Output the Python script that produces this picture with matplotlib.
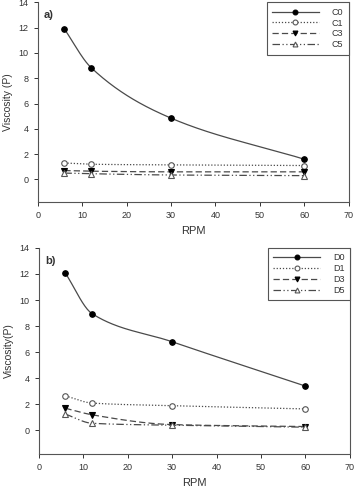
import numpy as np
import matplotlib
matplotlib.use('Agg')
import matplotlib.pyplot as plt

plt.rcParams['font.family'] = ['Liberation Sans', 'DejaVu Sans']

rpm = [6, 12, 30, 60]

c_labels = ['C0', 'C1', 'C3', 'C5']
c0 = [11.9, 8.85, 4.85, 1.6]
c1 = [1.3, 1.2, 1.15, 1.1]
c3 = [0.7, 0.65, 0.6, 0.6]
c5 = [0.5, 0.45, 0.35, 0.3]

d_labels = ['D0', 'D1', 'D3', 'D5']
d0 = [12.05, 8.95, 6.8, 3.4]
d1 = [2.65, 2.1, 1.9, 1.65]
d3 = [1.7, 1.2, 0.45, 0.3]
d5 = [1.25, 0.55, 0.4, 0.25]

xticks = [0, 10, 20, 30, 40, 50, 60, 70]
yticks = [0, 2, 4, 6, 8, 10, 12, 14]

line_color = '#4a4a4a'
text_color = '#333333'
styles = [
    dict(linestyle='-', marker='o', markerfacecolor='black', markeredgecolor='black'),
    dict(linestyle=(0, (1, 1.5)), marker='o', markerfacecolor='white', markeredgecolor='#555555'),
    dict(linestyle=(0, (5, 2.5)), marker='v', markerfacecolor='black', markeredgecolor='black'),
    dict(linestyle=(0, (6, 2, 1, 2, 1, 2)), marker='^', markerfacecolor='white', markeredgecolor='#555555'),
]


def pchip(x, y, n=200):
    # monotone cubic curve through the points, only used to draw the smooth line
    x = np.asarray(x, float)
    y = np.asarray(y, float)
    h = np.diff(x)
    delta = np.diff(y) / h
    m = np.zeros_like(y)
    m[0] = delta[0]
    m[-1] = delta[-1]
    for k in range(1, len(x) - 1):
        if delta[k - 1] * delta[k] <= 0:
            m[k] = 0
        else:
            w1 = 2 * h[k] + h[k - 1]
            w2 = h[k] + 2 * h[k - 1]
            m[k] = (w1 + w2) / (w1 / delta[k - 1] + w2 / delta[k])
    xs = np.linspace(x[0], x[-1], n)
    idx = np.clip(np.searchsorted(x, xs) - 1, 0, len(x) - 2)
    t = (xs - x[idx]) / h[idx]
    h00 = 2 * t**3 - 3 * t**2 + 1
    h10 = t**3 - 2 * t**2 + t
    h01 = -2 * t**3 + 3 * t**2
    h11 = t**3 - t**2
    ys = h00 * y[idx] + h10 * h[idx] * m[idx] + h01 * y[idx + 1] + h11 * h[idx] * m[idx + 1]
    return xs, ys


def panel(ax, series, labels, tag, ylabel):
    for vals, lab, st in zip(series, labels, styles):
        xs, ys = pchip(rpm, vals)
        ax.plot(xs, ys, color=line_color, linewidth=0.9, linestyle=st['linestyle'])
        ax.plot(rpm, vals, linestyle='none', marker=st['marker'], markersize=4,
                markerfacecolor=st['markerfacecolor'], markeredgecolor=st['markeredgecolor'],
                markeredgewidth=0.8)
        # proxy for legend
        ax.plot([], [], color=line_color, linewidth=0.9, linestyle=st['linestyle'],
                marker=st['marker'], markersize=3.5, markerfacecolor=st['markerfacecolor'],
                markeredgecolor=st['markeredgecolor'], markeredgewidth=0.8, label=lab)
    ax.set_xlim(0, 70)
    ax.set_ylim(-1.8, 14)
    ax.set_xticks(xticks)
    ax.set_yticks(yticks)
    ax.tick_params(labelsize=6.5, colors=text_color, length=3, width=0.7, direction='out')
    for s in ['left', 'bottom', 'right']:
        ax.spines[s].set_color('#555555')
        ax.spines[s].set_linewidth(0.8)
    ax.spines['top'].set_visible(False)
    ax.set_xlabel('RPM', fontsize=8, color=text_color, labelpad=4)
    ax.set_ylabel(ylabel, fontsize=7.5, color=text_color, labelpad=4)
    ax.text(0.02, 0.96, tag, transform=ax.transAxes, fontsize=8, fontweight='bold',
            color=text_color, va='top', ha='left')
    leg = ax.legend(loc='upper right', borderaxespad=0, fontsize=6.5, handlelength=5.2,
                    labelspacing=0.2, fancybox=False, framealpha=1, borderpad=0.6,
                    handletextpad=1.4, markerfirst=True)
    leg.get_frame().set_edgecolor('#555555')
    leg.get_frame().set_linewidth(0.8)
    for t in leg.get_texts():
        t.set_color(text_color)


fig = plt.figure(figsize=(3.56, 4.86), dpi=100)
ax1 = fig.add_axes([0.106, 0.584, 0.873, 0.411])
ax2 = fig.add_axes([0.109, 0.066, 0.874, 0.424])

panel(ax1, [c0, c1, c3, c5], c_labels, 'a)', 'Viscosity (P)')
panel(ax2, [d0, d1, d3, d5], d_labels, 'b)', 'Viscosity(P)')

fig.savefig('out.png', dpi=100)
